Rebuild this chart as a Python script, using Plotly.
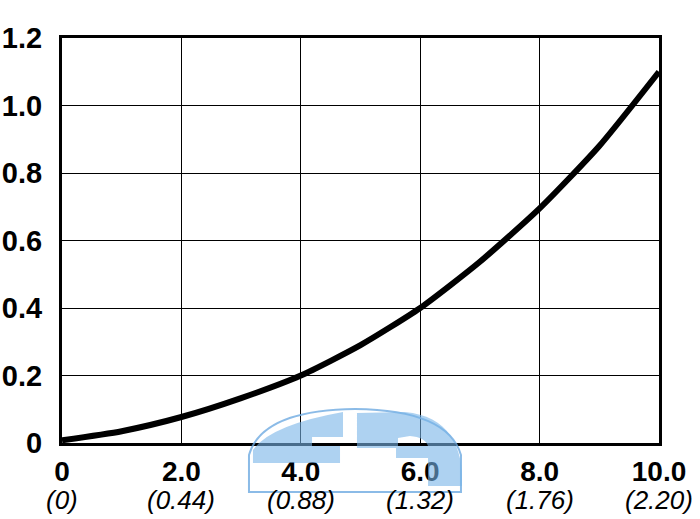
import plotly.graph_objects as go

# ---- data ----
x_vals = [0, 1, 2, 3, 4, 5, 6, 7, 8, 9, 10]
y_vals = [0.008, 0.035, 0.077, 0.133, 0.200, 0.290, 0.400, 0.537, 0.695, 0.880, 1.100]

x_tickvals = [0, 2, 4, 6, 8, 10]
x_top_labels = ["0", "2.0", "4.0", "6.0", "8.0", "10.0"]
x_sub_labels = ["(0)", "(0.44)", "(0.88)", "(1.32)", "(1.76)", "(2.20)"]
y_tickvals = [0, 0.2, 0.4, 0.6, 0.8, 1.0, 1.2]
y_ticklabels = ["0", "0.2", "0.4", "0.6", "0.8", "1.0", "1.2"]

W, H = 700, 519
L, R, T, B = 62, 41, 38, 76

x_ticktext = [f"<b>{a}</b>" for a in x_top_labels]
y_ticktext = [f"<b>{t}</b>" for t in y_ticklabels]

fig = go.Figure()
fig.add_trace(go.Scatter(
    x=x_vals, y=y_vals, mode="lines",
    line=dict(color="black", width=6, shape="spline", smoothing=0.6),
    hoverinfo="skip", showlegend=False,
))

# ---- watermark (decorative logo) ----
pw = W - L - R
ph = H - T - B


def P(px, py):
    return (px - L) / pw, (H - B - py) / ph


def path(cmds):
    out = []
    for cmd in cmds:
        if cmd[0] == "Z":
            out.append("Z")
            continue
        coords = []
        for (a, b) in cmd[1:]:
            u, v = P(a, b)
            coords.append(f"{u:.4f},{v:.4f}")
        out.append(cmd[0] + " " + " ".join(coords))
    return " ".join(out)


arch = path([
    ("M", (249, 492)), ("L", (249, 455)),
    ("Q", (262, 410), (355, 409)),
    ("Q", (448, 410), (461, 455)),
    ("L", (461, 492)), ("Z",),
])
f_shape = path([
    ("M", (253, 463)), ("L", (253, 450)),
    ("Q", (270, 425), (343, 412)),
    ("L", (343, 437)), ("L", (312, 437)), ("L", (312, 446)),
    ("L", (340, 446)), ("L", (340, 463)), ("Z",),
])
d_shape = path([
    ("M", (357, 413)), ("L", (405, 412)),
    ("C", (448, 416), (464, 446), (462, 486)),
    ("L", (428, 486)), ("L", (428, 458)),
    ("L", (396, 458)), ("L", (396, 448)), ("L", (357, 448)), ("Z",),
    ("M", (398, 438)), ("L", (398, 446)), ("L", (428, 446)),
    ("Q", (425, 437), (410, 436)), ("Z",),
])

shapes = [
    dict(type="path", xref="paper", yref="paper", path=arch,
         line=dict(color="rgba(110,170,225,0.8)", width=2), fillcolor="rgba(0,0,0,0)", layer="above"),
    dict(type="path", xref="paper", yref="paper", path=f_shape,
         line=dict(width=0), fillcolor="rgba(120,180,232,0.6)", layer="above"),
    dict(type="path", xref="paper", yref="paper", path=d_shape,
         line=dict(width=0), fillcolor="rgba(120,180,232,0.6)", layer="above"),
]

# sub-labels (second line of x tick labels)
annotations = [
    dict(text=f"<i>{s}</i>", x=xv, y=(H - B - 500) / ph, xref="x", yref="paper",
         showarrow=False, xanchor="center", yanchor="middle",
         font=dict(family="Liberation Sans", size=26, color="black"))
    for xv, s in zip(x_tickvals, x_sub_labels)
]

fig.update_layout(
    width=W, height=H,
    margin=dict(l=L, r=R, t=T, b=B, pad=0),
    paper_bgcolor="white", plot_bgcolor="white",
    font=dict(family="Liberation Sans", color="black"),
    shapes=shapes, annotations=annotations,
    xaxis=dict(
        range=[0, 10], tickmode="array", tickvals=x_tickvals, ticktext=x_ticktext,
        tickfont=dict(size=28, family="Liberation Sans", color="black"),
        showgrid=True, gridcolor="black", gridwidth=1,
        showline=True, linecolor="black", linewidth=3, mirror=True,
        zeroline=False, ticks="", ticklabelstandoff=1, automargin=False,
    ),
    yaxis=dict(
        range=[0, 1.2], tickmode="array", tickvals=y_tickvals, ticktext=y_ticktext,
        tickfont=dict(size=29, family="Liberation Sans", color="black"),
        showgrid=True, gridcolor="black", gridwidth=1,
        showline=True, linecolor="black", linewidth=3, mirror=True,
        zeroline=False, ticks="", ticklabelstandoff=11, automargin=False,
    ),
)

fig.write_html("out.html", config={"displayModeBar": False},
               post_script="document.body.style.margin='0';")
